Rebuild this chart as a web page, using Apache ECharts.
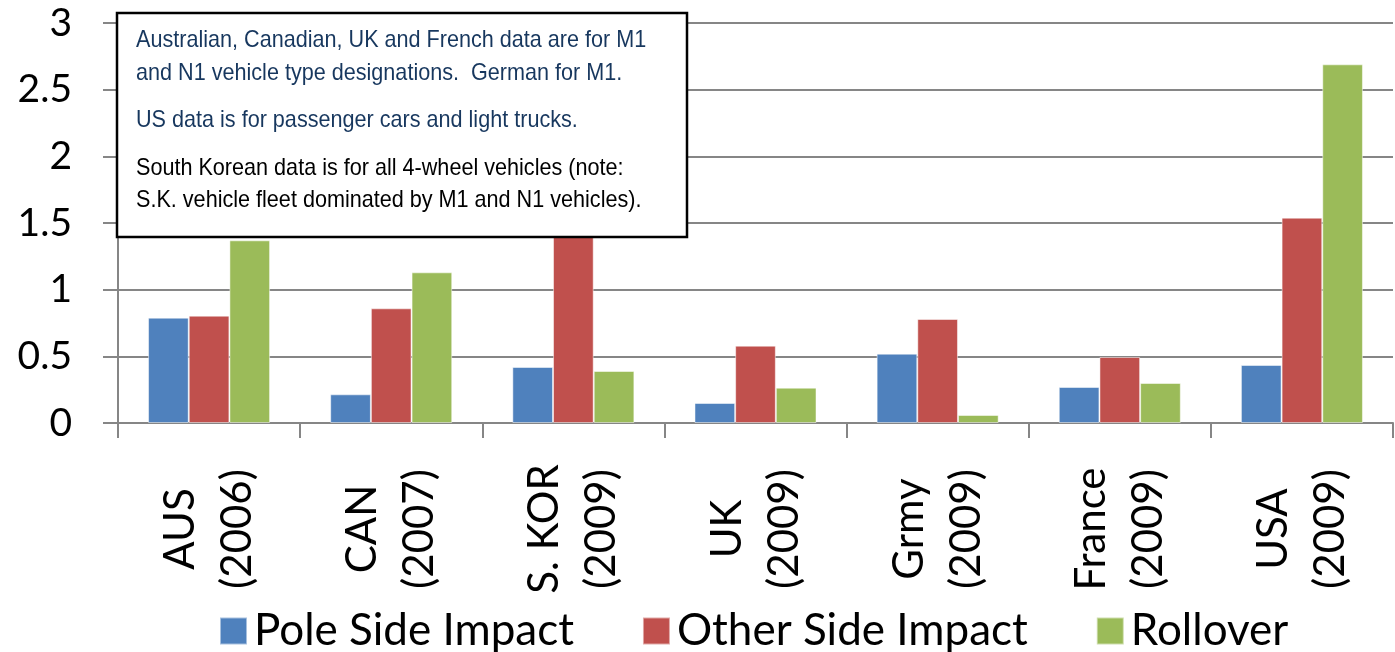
<!DOCTYPE html>
<html>
<head>
<meta charset="utf-8">
<script src="https://cdn.jsdelivr.net/npm/echarts@6/dist/echarts.min.js"></script>
<style>html,body{margin:0;padding:0;background:#fff}#c{width:1395px;height:652px}</style>
</head>
<body>
<div id="c"></div>
<script>
const categories = ["AUS\n(2006)", "CAN\n(2007)", "S. KOR\n(2009)", "UK\n(2009)", "Grmy\n(2009)", "France\n(2009)", "USA\n(2009)"];
const poleSide = [0.79, 0.215, 0.42, 0.15, 0.52, 0.27, 0.435];
const otherSide = [0.805, 0.86, 1.85, 0.58, 0.78, 0.495, 1.54];
const rollover = [1.37, 1.13, 0.39, 0.265, 0.06, 0.30, 2.69];
const seriesNames = ["Pole Side Impact", "Other Side Impact", "Rollover"];
const yTicks = [0, 0.5, 1, 1.5, 2, 2.5, 3];
const noteLines = [
  "Australian, Canadian, UK and French data are for M1",
  "and N1 vehicle type designations.  German for M1.",
  "US data is for passenger cars and light trucks.",
  "South Korean data is for all 4-wheel vehicles (note:",
  "S.K. vehicle fleet dominated by M1 and N1 vehicles)."
];

const FONT = 'Lato, "Open Sans", sans-serif';
const NOTE_FONT = '"Liberation Sans", Arial, sans-serif';
const noteY = [40, 73, 120, 168, 200];
const noteColor = ["#17375E", "#17375E", "#17375E", "#000000", "#000000"];

const chart = echarts.init(document.getElementById('c'), null, {renderer: 'canvas'});
const colors = ["#4F81BD", "#C0504D", "#9BBB59"];
const data = [poleSide, otherSide, rollover];

chart.setOption({
  animation: false,
  color: colors,
  grid: {left: 118, right: 2, top: 23, bottom: 229, containLabel: false},
  legend: {
    data: seriesNames,
    top: 604,
    left: 214,
    icon: 'rect',
    itemWidth: 27,
    itemHeight: 27,
    itemGap: 68,
    textStyle: {fontFamily: FONT, fontSize: 44, color: '#000', padding: [0, 0, 0, 2]}
  },
  xAxis: {
    type: 'category',
    data: categories,
    axisLine: {lineStyle: {color: '#868686', width: 2}},
    axisTick: {show: true, length: 15, lineStyle: {color: '#868686', width: 2}},
    axisLabel: {
      interval: 0,
      rotate: 90,
      align: 'center',
      verticalAlign: 'middle',
      margin: 106,
      fontFamily: FONT,
      fontSize: 42,
      lineHeight: 57,
      color: '#000'
    }
  },
  yAxis: {
    type: 'value',
    min: yTicks[0],
    max: yTicks[yTicks.length - 1],
    interval: 0.5,
    axisLine: {show: true, lineStyle: {color: '#868686', width: 2}},
    axisTick: {show: true, length: 15, lineStyle: {color: '#868686', width: 2}},
    splitLine: {lineStyle: {color: '#868686', width: 2}},
    axisLabel: {fontFamily: FONT, fontSize: 39, color: '#000', margin: 46}
  },
  series: seriesNames.map((n, i) => ({
    name: n,
    type: 'bar',
    data: data[i],
    barGap: '0%',
    barCategoryGap: '33%',
    itemStyle: {borderColor: 'rgba(255,255,255,0.5)', borderWidth: 1}
  })),
  graphic: {
    elements: [
      {
        type: 'rect',
        z: 100,
        shape: {x: 117, y: 13, width: 570, height: 224},
        style: {fill: '#fff', stroke: '#000', lineWidth: 2.5}
      }
    ].concat(noteLines.map((t, i) => ({
      type: 'text',
      z: 101,
      x: 136,
      y: noteY[i],
      scaleX: 0.9,
      style: {
        text: t,
        fill: noteColor[i],
        font: '24px ' + NOTE_FONT,
        verticalAlign: 'middle',
        align: 'left'
      }
    })))
  }
});
</script>
</body>
</html>
